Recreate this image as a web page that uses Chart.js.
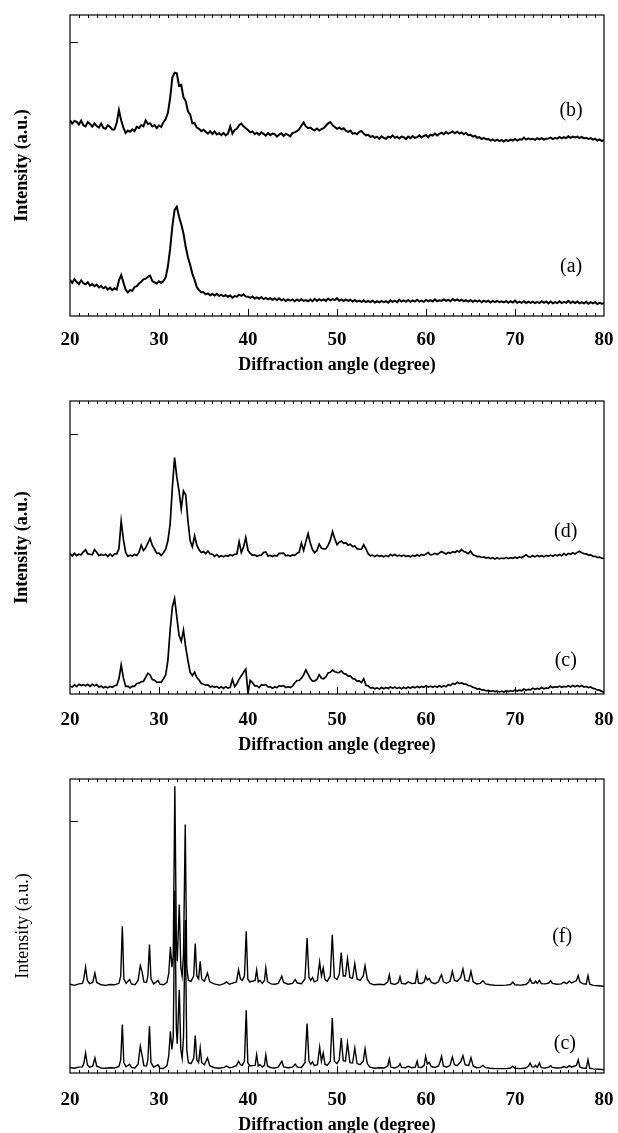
<!DOCTYPE html>
<html lang="en">
<head>
<meta charset="UTF-8">
<title>XRD patterns</title>
<script src="https://cdn.jsdelivr.net/npm/chart.js"></script>
<style>
  html, body { margin: 0; padding: 0; background: #fff; overflow: hidden; }
  .panel { position: absolute; left: 0; width: 618px; height: 380px; }
</style>
</head>
<body>
<div class="panel" style="top:0"><canvas id="chart1" width="618" height="380"></canvas></div>
<div class="panel" style="top:380px"><canvas id="chart2" width="618" height="380"></canvas></div>
<div class="panel" style="top:760px"><canvas id="chart3" width="618" height="380"></canvas></div>

<script>
// --- data (intensity in arbitrary units, 0 = bottom of frame, 100 = top) ---
// panels 1 and 2: sampled every 0.25 degree from 20 to 80
const ANGLE_START = 20;
const ANGLE_STEP = 0.25;
const xTicks = [20, 30, 40, 50, 60, 70, 80];

const intensityB = [
 65.0,63.9,64.8,64.5, 63.6,64.9,63.4,63.0, 64.4,63.8,62.9,64.0, 63.1,62.6,63.9,62.5, 62.2,63.4,62.8,61.9, // 20-24
 62.0,64.2,68.4,65.0, 62.6,60.8,61.6,61.2, 62.0,61.4,62.9,62.4, 63.4,63.0,65.0,63.8, 64.0,63.0,63.4,62.4, // 25-29
 63.3,62.8,64.4,65.4, 67.5,72.4,79.2,80.8, 80.6,76.5,76.8,72.6, 71.4,68.0,67.0,64.0, 64.1,62.6,62.2,61.4, // 30-34
 61.9,61.2,60.6,61.4, 60.5,61.3,60.3,60.7, 60.1,60.8,60.0,60.6, 63.0,60.6,61.8,62.2, 63.4,63.9,63.0,62.4, // 35-39
 61.8,61.0,61.3,60.4, 60.9,60.2,61.0,60.5, 59.9,60.8,60.1,60.6, 60.4,59.6,60.3,60.7, 59.8,60.5,60.2,59.7, // 40-44
 60.8,61.0,61.4,62.0, 63.2,64.3,63.0,62.4, 62.6,62.0,61.7,62.3, 61.6,62.1,62.4,63.2, 64.0,64.4,63.4,62.8, // 45-49
 62.2,62.6,62.0,62.4, 61.6,61.2,61.6,60.6, 60.8,60.4,61.2,61.5, 60.6,60.0,60.2,59.5, 59.8,59.2,59.6,58.9, // 50-54
 59.7,59.2,58.9,59.6, 59.3,60.0,59.2,59.6, 59.0,59.6,59.4,58.8, 59.6,59.1,59.8,59.2, 59.4,60.0,59.3,59.8, // 55-59
 60.1,59.4,60.2,59.9, 60.6,60.0,60.5,60.9, 60.4,61.1,60.6,60.9, 61.3,60.7,61.2,60.6, 61.0,60.4,60.8,60.1, // 60-64
 60.2,59.6,59.9,59.2, 59.4,58.8,59.2,58.7, 58.8,58.3,58.7,58.2, 58.6,58.1,58.5,58.0, 58.5,58.1,58.6,58.3, // 65-69
 58.8,58.3,58.7,58.6, 59.3,58.6,59.0,58.7, 58.9,58.5,59.1,58.7, 59.1,58.6,58.9,59.0, 59.3,58.8,59.2,58.9, // 70-74
 59.5,59.0,59.4,59.1, 59.7,59.2,59.6,59.3, 59.6,59.1,59.5,59.0, 59.2,58.8,59.1,58.6, 58.9,58.3,58.7,58.2, // 75-79
 58.4
];

const intensityA = [
 12.0,11.0,12.2,11.3, 10.6,11.8,10.9,10.5, 11.2,10.1,10.6,9.9, 10.4,9.5,10.0,9.2, 9.7,8.8,9.4,8.6,     // 20-24
 9.2,8.8,11.8,13.6, 11.2,8.8,7.8,8.6, 8.4,9.6,9.9,10.8, 11.4,12.2,12.4,13.0, 13.4,11.6,11.2,10.8,     // 25-29
 11.5,11.0,11.6,12.8, 16.5,22.3,29.8,35.2, 36.3,33.0,30.5,27.4, 23.0,19.5,17.0,14.0, 12.0,9.6,8.6,7.9, // 30-34
 7.9,7.2,7.5,6.9, 7.3,6.8,7.4,6.7, 7.0,6.6,6.9,6.4, 6.8,6.1,6.6,6.4, 7.1,6.7,7.2,6.5,                // 35-39
 6.4,6.0,6.5,5.8, 6.2,5.7,6.3,5.6, 6.0,5.5,5.9,5.4, 5.8,5.3,5.9,5.2, 5.6,5.0,5.5,5.1,                // 40-44
 5.5,4.9,5.5,5.0, 5.6,5.0,5.3,4.9, 5.5,4.9,5.7,5.0, 5.6,5.1,5.5,5.0, 5.8,5.2,5.6,5.3,                // 45-49
 5.9,5.1,5.5,5.0, 5.5,5.0,5.4,4.8, 5.3,4.8,5.1,4.7, 5.2,4.6,5.0,4.6, 5.1,4.5,4.9,4.5,                // 50-54
 5.0,4.6,4.9,4.4, 5.2,4.7,5.1,4.6, 5.4,4.8,5.2,4.7, 5.3,4.7,5.2,4.8, 5.4,4.8,5.1,4.7,                // 55-59
 5.4,4.9,5.3,4.8, 5.5,4.9,5.2,5.0, 5.5,5.0,5.4,4.9, 5.6,5.1,5.5,5.0, 5.4,4.9,5.3,4.8,                // 60-64
 5.3,4.7,5.2,4.8, 5.2,4.6,5.1,4.7, 5.1,4.5,5.0,4.6, 5.0,4.6,4.9,4.5, 5.0,4.4,4.9,4.5,                // 65-69
 5.1,4.4,4.8,4.4, 4.9,4.3,4.8,4.4, 4.8,4.3,4.7,4.3, 4.9,4.4,4.8,4.2, 4.8,4.2,4.6,4.3,                // 70-74
 4.9,4.3,4.7,4.4, 5.0,4.3,4.8,4.3, 4.8,4.2,4.6,4.2, 4.7,4.1,4.6,4.2, 4.6,4.0,4.4,4.1,                // 75-79
 4.2
];

const intensityD = [
 47.9,47.1,48.0,47.2, 47.7,47.5,48.5,49.2, 47.8,47.7,47.5,49.3, 48.4,47.2,47.6,47.3, 47.7,46.9,47.8,47.0, // 20-24
 47.8,47.8,49.6,59.0, 52.8,48.3,47.0,47.4, 47.1,47.6,47.3,48.3, 50.8,49.0,49.9,51.5, 53.1,50.7,49.4,48.0, // 25-29
 48.1,47.3,48.2,49.4, 52.3,58.0,70.5,80.7, 74.0,69.3,63.2,69.3, 68.0,59.2,52.3,50.2, 54.0,50.8,49.2,48.3, // 30-34
 48.6,47.9,48.8,47.8, 47.7,47.0,47.6,46.8, 47.2,46.8,47.3,47.0, 47.5,47.2,47.7,47.8, 52.0,48.3,50.2,53.4, // 35-39
 49.0,48.0,47.3,47.5, 47.0,47.3,47.4,48.3, 48.5,47.1,47.3,46.9, 47.3,47.1,48.0,48.0, 48.1,47.2,47.4,47.0, // 40-44
 47.5,47.3,48.0,48.4, 51.5,49.0,52.0,54.7, 51.5,49.2,48.2,49.0, 51.2,49.8,49.5,49.6, 50.7,52.5,55.4,53.0, // 45-49
 51.0,51.8,52.2,51.4, 51.6,50.8,51.1,50.3, 50.5,49.6,49.4,49.4, 50.9,49.5,47.9,47.2, 47.4,46.9,47.4,47.0, // 50-54
 47.2,46.8,47.3,46.9, 47.6,47.2,47.6,47.1, 47.4,47.0,47.4,46.9, 47.2,46.8,47.3,47.0, 47.5,47.1,47.6,47.3, // 55-59
 47.8,48.3,47.5,47.6, 48.0,47.6,48.1,48.6, 48.2,47.8,48.3,48.0, 48.6,48.3,48.9,48.5, 49.3,48.6,48.4,47.9, // 60-64
 48.8,47.6,47.3,46.9, 47.0,46.6,46.8,46.4, 46.6,46.2,46.5,46.1, 46.5,46.1,46.4,46.2, 46.6,46.2,46.5,46.3, // 65-69
 46.7,46.3,46.8,46.5, 47.0,47.5,46.9,46.8, 47.2,46.8,47.3,46.9, 47.2,46.8,47.3,47.0, 47.4,47.0,47.5,47.2, // 70-74
 47.6,47.2,47.9,47.4, 48.0,47.7,48.2,47.8, 48.3,48.7,48.2,47.9, 47.8,47.4,47.5,47.0, 47.0,46.6,46.7,46.4, // 75-79
 46.3
];

const intensityC2 = [
 2.7,2.4,3.2,2.5, 3.3,2.9,3.2,2.8, 3.3,2.6,3.3,2.8, 3.2,2.4,2.7,2.1, 2.5,2.1,2.6,2.3,           // 20-24
 2.8,3.0,5.2,9.9, 5.5,2.6,2.7,2.1, 2.7,2.6,3.6,3.7, 4.2,4.3,5.7,7.1, 6.5,4.9,4.7,4.0,           // 25-29
 4.1,4.0,5.2,6.5, 11.5,21.8,29.7,32.6, 26.3,20.0,18.0,21.8, 16.0,11.5,7.4,6.3, 7.4,5.6,4.8,3.6, // 30-34
 3.3,3.0,3.1,2.4, 2.7,2.3,2.6,2.0, 2.5,1.9,2.5,2.0, 2.3,5.0,2.5,3.5, 5.1,6.2,7.4,8.5,           // 35-39
 0.3,4.6,3.9,2.8, 2.8,2.2,3.1,3.0, 3.2,2.4,2.5,2.0, 2.4,2.2,2.8,2.6, 2.8,2.2,2.5,2.2,           // 40-44
 2.7,3.8,4.6,4.6, 5.4,6.5,8.2,6.8, 5.3,4.4,4.5,5.0, 6.6,5.4,5.2,5.8, 7.2,7.4,8.2,7.6,           // 45-49
 7.4,7.3,7.9,7.0, 6.8,6.1,6.2,5.3, 5.1,4.4,4.5,3.9, 5.2,3.0,2.8,2.1, 2.2,1.8,2.1,1.7,           // 50-54
 2.2,1.8,2.2,1.9, 2.4,2.0,2.3,1.9, 2.2,1.8,2.3,1.9, 2.4,2.0,2.5,2.1, 2.6,2.2,2.6,2.3,           // 55-59
 2.8,2.4,2.7,2.3, 2.7,2.3,2.8,2.4, 2.8,2.5,3.2,2.9, 3.6,3.3,4.0,3.6, 3.8,3.4,3.4,2.9,           // 60-64
 2.8,2.3,2.1,1.7, 1.8,1.4,1.4,1.1, 1.2,0.9,1.1,0.8, 1.0,0.7,1.0,0.7, 1.1,0.8,1.1,0.9,           // 65-69
 1.4,1.0,1.3,1.1, 1.7,1.3,1.6,1.4, 2.0,1.6,1.9,1.7, 2.2,1.8,2.1,1.9, 2.6,2.2,2.5,2.3,           // 70-74
 2.7,2.3,2.6,2.4, 2.8,2.4,2.9,2.5, 2.9,2.5,2.9,2.4, 2.6,2.2,2.4,1.9, 1.8,1.4,1.3,0.9,           // 75-79
 0.6
];

// panel 3: sharp crystalline peaks, read at irregular angles
const angles3 = [
 20,20.5,21,21.4,21.55,21.75,21.95,22.2,22.55,22.8,
 23.0,23.5,24,24.5,25,25.5,25.7,25.88,26.05,26.3,
 26.7,26.9,27.3,27.65,27.9,28.1,28.3,28.6,28.75,28.93,
 29.1,29.4,29.9,30.1,30.5,30.9,31.1,31.28,31.45,31.6,
 31.78,31.95,32.05,32.28,32.45,32.6,32.75,32.95,33.12,33.3,
 33.6,33.9,34.07,34.25,34.45,34.63,34.8,35.1,35.45,35.7,
 36.2,36.8,37.3,37.6,37.9,38.2,38.7,38.94,39.15,39.35,
 39.6,39.8,39.98,40.2,40.5,40.8,40.97,41.15,41.35,41.6,
 41.85,42.0,42.2,42.6,43.0,43.4,43.8,44.0,44.5,45.0,
 45.3,45.55,46.0,46.4,46.64,46.85,47.05,47.25,47.45,47.8,
 48.05,48.25,48.45,48.65,48.9,49.25,49.47,49.7,50.0,50.25,
 50.48,50.7,50.95,51.18,51.45,51.75,52.0,52.25,52.6,52.95,
 53.15,53.4,53.7,54.2,54.8,55.3,55.7,55.88,56.05,56.5,
 56.9,57.08,57.25,57.7,58.0,58.4,58.8,59.0,59.15,59.5,
 59.8,59.96,60.15,60.35,60.6,61.0,61.4,61.6,61.75,61.95,
 62.3,62.7,62.96,63.2,63.5,63.9,64.15,64.4,64.8,65.05,
 65.3,65.7,66.1,66.4,66.7,67.2,67.8,68.4,69.0,69.5,
 69.75,70.0,70.6,71.2,71.5,71.7,71.9,72.15,72.3,72.5,
 72.75,72.95,73.4,73.8,74.0,74.2,74.7,75.2,75.5,75.8,
 76.1,76.35,76.6,76.9,77.1,77.3,77.6,78.0,78.2,78.4,
 78.8,79.4,80.0
];

const intensityF = [
 30.2,29.8,30.3,30.5,32,36,31.5,30.4,30.8,34,
 30.8,30.0,29.8,30.1,30.0,30.5,33,49.9,32,30.5,
 31.8,30.3,30.0,31.5,36.5,34.5,31,30.8,33,43.7,
 32,30.3,31.5,30.2,30.0,30.8,34,42.9,36,40,
 97.5,45,38,57.3,36,33,40,84.5,36,31.5,
 31.2,33,44,33,32,38,32,31.2,34,31,
 30.3,29.9,30.4,31,30.2,30.5,31,35.1,32,31.5,
 33,48.2,32,31,31.2,31.5,35,31,31.5,30.5,
 31.5,35.7,31,30.3,30.2,30.5,32.9,30.8,30.2,30.5,
 31.8,30.6,30.4,32,45.9,32.5,31.5,32.5,31,31.5,
 37.8,33,35.7,31.8,31.2,33,47,32.5,31.8,33.5,
 41,33,33,38.9,32.5,32.2,37.2,32,31.5,33,
 36.5,32,30.5,30.0,30.2,30.0,31,33.4,30.5,30.1,
 30.8,32.7,30.5,30.3,31.0,30.4,30.6,34.2,30.6,30.4,
 31,32.9,31.6,32.2,30.8,30.4,31,32.6,33.4,31,
 30.5,31.2,34.6,31.5,31.2,32.5,35.4,31.5,31.2,34.6,
 31,30.3,30.5,31.4,30.3,30.0,29.8,29.8,29.9,30.1,
 30.9,30.0,29.9,30.1,30.8,32,30.6,30.5,31.2,30.5,
 31.5,30.4,30.3,30.6,31.4,30.5,30.2,30.3,30.9,30.4,
 31.2,30.6,31.0,31.4,33.1,30.9,30.4,30.2,33.1,30.2,
 29.8,29.7,29.5
];

const intensityC3 = [
 1.9,1.6,2.0,2.1,3.2,6.8,2.8,2.0,2.3,5.1,
 2.3,1.7,1.6,1.8,1.7,2.2,4.5,16.5,3.5,2.1,
 3.0,1.9,1.7,3.0,9.1,6.0,2.5,2.4,4.5,15.9,
 3.5,2.0,2.8,1.6,1.5,2.5,6.0,14.2,8.0,12,
 62,15,10,28.3,8,5,12,52,8,3.5,
 3.2,5.0,12.7,4.5,3.5,8.5,3.5,2.8,5.1,2.5,
 1.8,1.6,1.9,2.4,1.8,1.9,2.5,4.0,2.8,2.6,
 4.0,21.3,3.5,2.4,2.5,2.6,6.2,2.4,2.8,2.0,
 2.6,6.2,2.3,1.8,1.7,2.0,4.0,2.1,1.8,2.0,
 3.0,2.0,1.9,3.5,16.8,4.0,3.0,3.8,2.5,2.8,
 8.8,4.0,6.8,3.0,2.6,4.0,18.7,4.0,3.2,4.5,
 11.9,4.2,4.0,10.2,3.5,3.4,8.5,3.2,2.8,4.0,
 8.2,3.2,2.0,1.6,1.8,1.7,2.4,4.8,2.0,1.7,
 2.2,3.2,1.9,1.8,2.3,1.8,2.0,4.0,2.0,1.9,
 2.6,5.7,3.0,3.6,2.2,1.9,2.4,4.0,5.7,2.4,
 2.0,2.6,5.4,2.8,2.5,3.8,5.9,2.8,2.5,5.2,
 2.4,1.8,1.9,2.6,1.8,1.6,1.5,1.5,1.5,1.7,
 2.3,1.6,1.5,1.7,2.3,3.4,2.1,2.0,2.6,1.9,
 3.4,1.8,1.7,2.0,2.5,1.9,1.7,1.8,2.2,1.8,
 2.5,2.0,2.3,2.6,4.5,2.0,1.7,1.6,4.5,1.6,
 1.4,1.3,1.1
];

// --- helpers ---
const onGrid = vals => vals.map((v, i) => ({ x: ANGLE_START + i * ANGLE_STEP, y: v }));
const paired = (xs, ys) => xs.map((x, i) => ({ x: x, y: ys[i] }));
const FONT = '"Liberation Serif", "Times New Roman", serif';

// frame, inward ticks and curve labels
const framePlugin = {
    id: 'frame',
    afterDatasetsDraw(chart, args, opts) {
        const { ctx, chartArea: a, scales: { x, y } } = chart;
        ctx.save();
        ctx.strokeStyle = '#000';
        ctx.lineWidth = 1.2;
        ctx.strokeRect(a.left, a.top, a.right - a.left, a.bottom - a.top);
        ctx.lineWidth = 1;
        ctx.beginPath();
        for (let d = 21; d < 80; d++) {
            const px = Math.round(x.getPixelForValue(d)) + 0.5;
            const len = d % 10 === 0 ? 7 : 3;
            ctx.moveTo(px, a.bottom);
            ctx.lineTo(px, a.bottom - len);
            ctx.moveTo(px, a.top);
            ctx.lineTo(px, a.top + 3);
        }
        const py = Math.round(y.getPixelForValue(opts.yTick)) + 0.5;
        ctx.moveTo(a.left, py);
        ctx.lineTo(a.left + 8, py);
        ctx.stroke();

        ctx.fillStyle = '#000';
        ctx.font = '20px ' + FONT;
        ctx.textAlign = 'center';
        ctx.textBaseline = 'middle';
        opts.labels.forEach((t, i) => {
            ctx.fillText(t, x.getPixelForValue(opts.labelX[i]), y.getPixelForValue(opts.labelY[i]));
        });
        ctx.restore();
    }
};

function makePanel(id, series, p) {
    return new Chart(document.getElementById(id), {
        type: 'line',
        data: {
            datasets: series.map(s => ({
                data: s,
                borderColor: '#000',
                borderWidth: p.lineWidth,
                pointRadius: 0,
                tension: 0,
                fill: false
            }))
        },
        options: {
            responsive: false,
            animation: false,
            devicePixelRatio: 1,
            layout: { padding: { top: p.top, right: 14, left: 0, bottom: 0 } },
            plugins: {
                legend: { display: false },
                tooltip: { enabled: false },
                frame: { yTick: p.yTick, labels: p.labels, labelX: p.labelX, labelY: p.labelY }
            },
            scales: {
                x: {
                    type: 'linear',
                    min: 20,
                    max: 80,
                    afterBuildTicks: s => { s.ticks = xTicks.map(v => ({ value: v })); },
                    afterFit: s => {
                        s.height = 380 - p.bottom;
                        s.paddingLeft = 0;
                        s.paddingRight = 0;
                    },
                    grid: { display: false, drawTicks: false },
                    border: { display: false },
                    ticks: {
                        color: '#000',
                        padding: p.tickPad,
                        maxRotation: 0,
                        font: { family: FONT, size: 19, weight: 'bold' }
                    },
                    title: {
                        display: true,
                        text: 'Diffraction angle (degree)',
                        color: '#000',
                        padding: { top: 0, bottom: 4 },
                        font: { family: FONT, size: 18, weight: 'bold' }
                    }
                },
                y: {
                    min: 0,
                    max: 100,
                    afterFit: s => { s.width = 70; },
                    grid: { display: false, drawTicks: false },
                    border: { display: false },
                    ticks: { display: false },
                    title: {
                        display: true,
                        text: 'Intensity (a.u.)',
                        color: '#000',
                        padding: { top: 12, bottom: 0 },
                        font: { family: FONT, size: 18, weight: p.yBold ? 'bold' : 'normal' }
                    }
                }
            }
        },
        plugins: [framePlugin]
    });
}

makePanel('chart1', [onGrid(intensityB), onGrid(intensityA)], {
    top: 15, bottom: 316, tickPad: 12.6, yTick: 91, yBold: true, lineWidth: 2,
    labels: ['(b)', '(a)'], labelX: [76.3, 76.3], labelY: [68.3, 16.2]
});

makePanel('chart2', [onGrid(intensityD), onGrid(intensityC2)], {
    top: 21, bottom: 314, tickPad: 14.6, yTick: 88.9, yBold: true, lineWidth: 1.7,
    labels: ['(d)', '(c)'], labelX: [75.7, 75.7], labelY: [55.4, 11.3]
});

makePanel('chart3', [paired(angles3, intensityF), paired(angles3, intensityC3)], {
    top: 19, bottom: 313, tickPad: 15.6, yTick: 85.8, yBold: false, lineWidth: 1.4,
    labels: ['(f)', '(c)'], labelX: [75.3, 75.6], labelY: [46.4, 9.9]
});
</script>
</body>
</html>
